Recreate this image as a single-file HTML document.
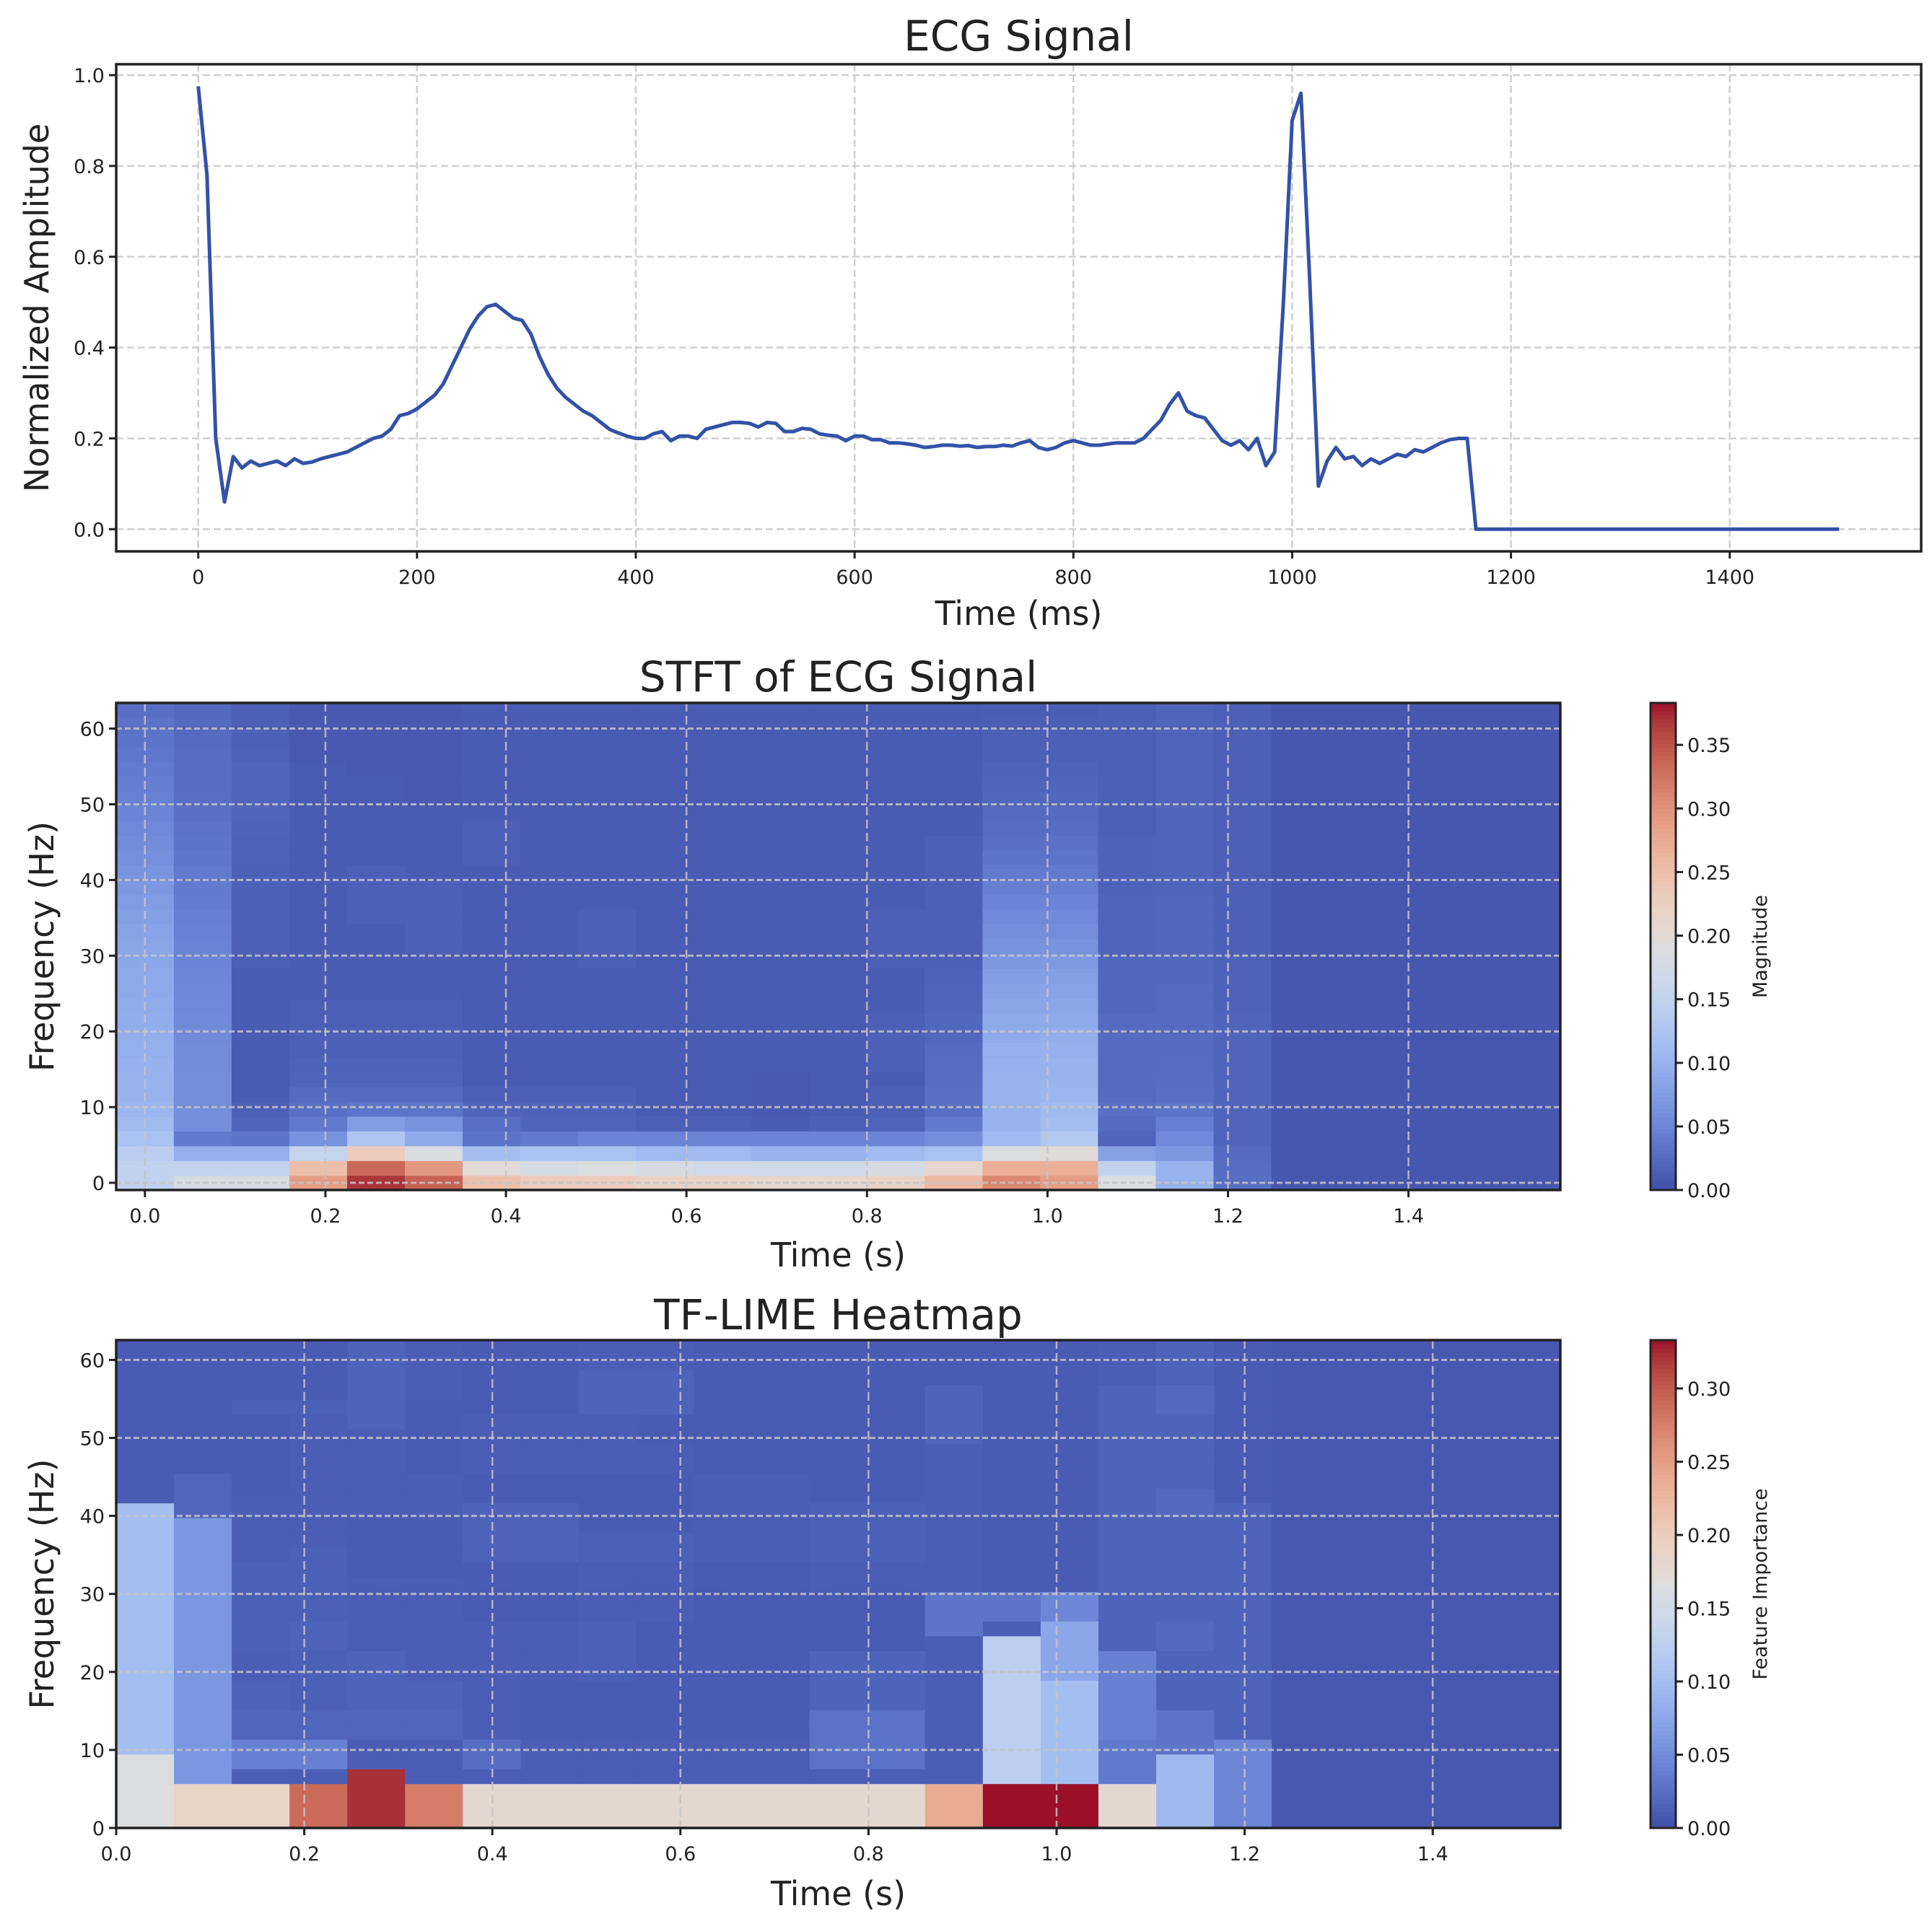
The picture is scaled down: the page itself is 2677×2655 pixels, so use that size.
<!DOCTYPE html>
<html><head><meta charset="utf-8"><style>
html,body{margin:0;padding:0;background:#fff;}
svg{display:block;font-family:"DejaVu Sans","Liberation Sans",sans-serif;}
</style></head><body>
<svg id="fig" width="2677" height="2655" viewBox="0 0 2677 2655" xmlns="http://www.w3.org/2000/svg">
<rect width="2677" height="2655" fill="#fff"/>
<g id="ecg"></g>
<g id="stft"></g>
<g id="lime"></g>
</svg>
<script>
// ---------- data ----------
const ecgTimeStep = 8;
const ecgValues = [0.975,0.78,0.2,0.06,0.16,0.135,0.15,0.14,0.145,0.15,0.14,0.155,0.145,0.148,0.155,0.16,0.165,0.17,0.18,0.19,0.2,0.205,0.22,0.25,0.255,0.265,0.28,0.295,0.32,0.36,0.4,0.44,0.47,0.49,0.495,0.48,0.465,0.46,0.43,0.38,0.34,0.31,0.29,0.275,0.26,0.25,0.235,0.22,0.212,0.205,0.2,0.2,0.21,0.215,0.195,0.205,0.205,0.2,0.22,0.225,0.23,0.235,0.235,0.233,0.225,0.235,0.233,0.215,0.215,0.222,0.22,0.21,0.207,0.205,0.195,0.205,0.205,0.197,0.197,0.19,0.19,0.188,0.185,0.18,0.182,0.185,0.185,0.183,0.184,0.18,0.182,0.182,0.185,0.183,0.19,0.195,0.18,0.175,0.18,0.19,0.195,0.19,0.185,0.185,0.188,0.19,0.19,0.19,0.2,0.22,0.24,0.275,0.3,0.26,0.25,0.245,0.22,0.195,0.185,0.195,0.175,0.2,0.14,0.17,0.5,0.9,0.96,0.55,0.095,0.15,0.18,0.155,0.16,0.14,0.155,0.145,0.155,0.165,0.16,0.175,0.17,0.18,0.19,0.197,0.2,0.2];
const ecgTailTimes = [1168,1500];
const ecgTailValues = [0,0];
const ecgXTicks = [0,200,400,600,800,1000,1200,1400];
const ecgYTicks = [0.0,0.2,0.4,0.6,0.8,1.0];

// STFT magnitude: one array per time column, values bottom (0 Hz) to top
const stftCols = [
[.15,.15,.14,.12,.11,.105,.1,.1,.098,.096,.095,.093,.092,.09,.088,.086,.085,.082,.078,.074,.07,.066,.062,.058,.054,.05,.047,.044,.041,.038,.035,.033,.03],
[.18,.15,.095,.04,.06,.06,.06,.06,.058,.058,.056,.055,.054,.053,.052,.05,.049,.047,.045,.043,.041,.039,.037,.035,.033,.031,.03,.028,.027,.026,.025,.024,.023],
[.18,.15,.095,.035,.02,.015,.012,.012,.012,.012,.012,.013,.013,.013,.013,.014,.015,.015,.016,.016,.017,.017,.018,.018,.019,.02,.02,.02,.02,.018,.016,.015,.014],
[.29,.25,.155,.065,.04,.03,.025,.02,.018,.016,.015,.014,.014,.013,.013,.013,.012,.012,.012,.012,.012,.012,.012,.012,.012,.012,.012,.012,.012,.01,.01,.01,.01],
[.37,.335,.23,.125,.075,.035,.025,.02,.018,.016,.015,.014,.014,.013,.013,.013,.012,.012,.015,.015,.015,.015,.012,.012,.012,.012,.012,.012,.01,.01,.01,.01,.01],
[.34,.295,.185,.09,.065,.035,.025,.02,.018,.016,.015,.014,.014,.013,.013,.013,.015,.015,.015,.015,.015,.012,.012,.012,.012,.012,.01,.01,.01,.01,.01,.01,.01],
[.25,.2,.115,.035,.03,.02,.015,.012,.012,.012,.012,.012,.012,.012,.012,.012,.012,.012,.012,.012,.012,.012,.015,.015,.015,.012,.012,.012,.012,.012,.012,.012,.012],
[.23,.18,.12,.04,.02,.018,.015,.012,.012,.012,.012,.012,.012,.012,.012,.012,.012,.012,.012,.012,.012,.012,.012,.012,.012,.012,.012,.012,.012,.012,.012,.012,.012],
[.23,.19,.12,.05,.02,.018,.015,.012,.012,.012,.012,.012,.012,.012,.012,.015,.015,.015,.015,.012,.012,.012,.012,.012,.012,.012,.012,.012,.012,.012,.012,.012,.012],
[.22,.18,.11,.05,.015,.012,.012,.012,.012,.012,.012,.012,.012,.012,.012,.012,.012,.012,.012,.012,.012,.012,.012,.012,.012,.012,.012,.012,.012,.012,.012,.012,.012],
[.22,.17,.11,.05,.015,.012,.012,.012,.012,.012,.012,.012,.012,.012,.012,.012,.012,.012,.012,.012,.012,.012,.012,.012,.012,.012,.012,.012,.012,.012,.012,.012,.012],
[.21,.17,.1,.05,.012,.01,.01,.01,.012,.012,.012,.012,.012,.012,.012,.012,.012,.012,.012,.012,.012,.012,.012,.012,.012,.012,.012,.012,.012,.012,.012,.012,.012],
[.21,.17,.1,.05,.015,.012,.012,.012,.012,.012,.012,.012,.012,.012,.012,.012,.012,.012,.012,.012,.012,.012,.012,.012,.012,.012,.012,.012,.012,.012,.012,.012,.012],
[.22,.18,.11,.05,.02,.015,.015,.012,.015,.015,.015,.015,.012,.012,.012,.015,.015,.015,.015,.012,.012,.012,.012,.012,.012,.012,.012,.012,.012,.012,.012,.012,.012],
[.26,.21,.12,.06,.04,.03,.03,.028,.026,.025,.022,.022,.02,.02,.018,.015,.015,.015,.015,.015,.015,.015,.015,.015,.012,.012,.012,.012,.012,.012,.012,.012,.012],
[.31,.27,.19,.11,.1,.1,.1,.1,.098,.095,.09,.088,.085,.08,.075,.07,.065,.06,.055,.05,.045,.04,.035,.03,.028,.025,.022,.02,.018,.016,.015,.014,.013],
[.29,.27,.2,.13,.115,.11,.105,.1,.1,.098,.095,.09,.086,.082,.078,.072,.066,.06,.055,.05,.045,.04,.035,.032,.028,.025,.022,.02,.018,.016,.015,.014,.013],
[.19,.15,.08,.02,.025,.03,.025,.025,.025,.025,.025,.025,.022,.022,.022,.022,.02,.02,.02,.02,.018,.018,.018,.018,.016,.016,.016,.016,.015,.015,.015,.015,.015],
[.1,.1,.07,.055,.045,.035,.03,.028,.026,.025,.025,.025,.025,.025,.022,.022,.022,.022,.022,.022,.02,.02,.02,.02,.02,.02,.02,.02,.02,.02,.02,.02,.02],
[.03,.028,.025,.02,.02,.02,.02,.02,.02,.02,.02,.02,.018,.018,.018,.018,.016,.016,.016,.016,.015,.015,.015,.015,.015,.015,.015,.015,.015,.015,.015,.015,.015],
[.008,.008,.008,.008,.008,.008,.008,.008,.008,.008,.008,.008,.008,.008,.008,.008,.008,.008,.008,.008,.008,.008,.008,.008,.008,.008,.008,.008,.008,.008,.008,.008,.008],
[.008,.008,.008,.008,.008,.008,.008,.008,.008,.008,.008,.008,.008,.008,.008,.008,.008,.008,.008,.008,.008,.008,.008,.008,.008,.008,.008,.008,.008,.008,.008,.008,.008],
[.008,.008,.008,.008,.008,.008,.008,.008,.008,.008,.008,.008,.008,.008,.008,.008,.008,.008,.008,.008,.008,.008,.008,.008,.008,.008,.008,.008,.008,.008,.008,.008,.008],
[.008,.008,.008,.008,.008,.008,.008,.008,.008,.008,.008,.008,.008,.008,.008,.008,.008,.008,.008,.008,.008,.008,.008,.008,.008,.008,.008,.008,.008,.008,.008,.008,.008],
[.008,.008,.008,.008,.008,.008,.008,.008,.008,.008,.008,.008,.008,.008,.008,.008,.008,.008,.008,.008,.008,.008,.008,.008,.008,.008,.008,.008,.008,.008,.008,.008,.008]
];
const stftVmax = 0.383;
const stftTimeStep = 0.064;
const stftFreqStep = 1.953;
const stftXTicks = [0.0,0.2,0.4,0.6,0.8,1.0,1.2,1.4];
const stftYTicks = [0,10,20,30,40,50,60];
const stftCbTicks = [0.00,0.05,0.10,0.15,0.20,0.25,0.30,0.35];

// TF-LIME importance: one array per time column, bottom to top
const limeCols = [
[.165,.165,.165,.165,.165,.1,.1,.1,.1,.1,.1,.1,.1,.1,.1,.1,.1,.1,.1,.1,.1,.1,.01,.01,.01,.01,.01,.01,.01,.01,.01,.01,.01],
[.19,.19,.19,.06,.06,.06,.06,.06,.06,.06,.06,.06,.06,.06,.06,.06,.06,.06,.06,.06,.06,.018,.018,.018,.01,.01,.01,.01,.01,.01,.01,.01,.01],
[.19,.19,.19,.012,.04,.04,.018,.018,.016,.016,.012,.012,.014,.014,.014,.014,.014,.014,.012,.012,.012,.012,.012,.01,.01,.01,.01,.01,.014,.01,.01,.01,.01],
[.29,.29,.29,.012,.04,.04,.018,.018,.014,.014,.014,.014,.016,.016,.014,.014,.014,.014,.014,.012,.012,.012,.012,.012,.012,.012,.012,.012,.014,.01,.01,.01,.01],
[.323,.323,.323,.323,.012,.012,.018,.018,.016,.016,.016,.016,.012,.012,.012,.012,.012,.01,.01,.01,.01,.012,.012,.012,.012,.012,.012,.016,.016,.016,.016,.016,.016],
[.277,.277,.277,.012,.012,.012,.018,.018,.016,.016,.012,.012,.012,.012,.012,.012,.012,.01,.01,.01,.01,.012,.012,.012,.01,.01,.01,.01,.01,.012,.012,.012,.012],
[.18,.18,.18,.012,.025,.025,.012,.012,.012,.012,.012,.012,.012,.012,.01,.01,.01,.01,.016,.016,.016,.016,.01,.01,.012,.012,.012,.012,.01,.01,.01,.01,.01],
[.18,.18,.18,.012,.012,.012,.01,.01,.01,.01,.012,.012,.012,.012,.01,.01,.01,.01,.016,.016,.016,.016,.01,.01,.012,.012,.012,.012,.01,.01,.01,.01,.01],
[.18,.18,.18,.012,.012,.012,.01,.01,.01,.01,.014,.014,.014,.014,.012,.012,.012,.012,.014,.014,.01,.01,.01,.01,.012,.012,.012,.012,.016,.016,.016,.012,.012],
[.18,.18,.18,.012,.012,.012,.01,.01,.01,.01,.01,.01,.01,.01,.012,.012,.012,.012,.014,.014,.01,.01,.01,.01,.012,.012,.01,.01,.016,.016,.016,.012,.012],
[.18,.18,.18,.012,.012,.012,.01,.01,.01,.01,.01,.01,.01,.01,.01,.01,.01,.01,.012,.012,.012,.012,.012,.012,.01,.01,.01,.01,.01,.01,.01,.01,.01],
[.18,.18,.18,.012,.012,.012,.01,.01,.01,.01,.01,.01,.01,.01,.01,.01,.01,.01,.012,.012,.012,.012,.012,.012,.01,.01,.01,.01,.01,.01,.01,.01,.01],
[.18,.18,.18,.012,.028,.028,.028,.028,.016,.016,.016,.016,.01,.01,.01,.01,.012,.012,.014,.014,.014,.014,.01,.01,.01,.01,.01,.01,.01,.01,.01,.01,.01],
[.18,.18,.18,.012,.028,.028,.028,.028,.016,.016,.016,.016,.01,.01,.01,.01,.012,.012,.014,.014,.014,.014,.01,.01,.01,.01,.01,.01,.01,.01,.01,.01,.01],
[.24,.24,.24,.012,.012,.012,.012,.012,.012,.012,.012,.012,.012,.03,.03,.03,.012,.012,.012,.012,.012,.012,.012,.012,.012,.012,.016,.016,.016,.016,.01,.01,.01],
[.333,.333,.333,.125,.125,.125,.125,.125,.125,.125,.125,.125,.125,.012,.03,.03,.01,.01,.01,.01,.01,.01,.01,.01,.01,.01,.01,.01,.01,.01,.01,.01,.01],
[.333,.333,.333,.1,.1,.1,.1,.1,.1,.1,.075,.075,.075,.075,.045,.045,.01,.01,.01,.01,.01,.01,.01,.01,.01,.01,.01,.01,.01,.01,.01,.01,.01],
[.18,.18,.18,.035,.035,.035,.04,.04,.04,.04,.04,.04,.016,.016,.016,.016,.016,.016,.016,.016,.016,.016,.016,.016,.016,.016,.016,.016,.016,.016,.012,.012,.012],
[.095,.095,.095,.095,.095,.03,.03,.03,.016,.016,.016,.016,.02,.02,.016,.016,.016,.016,.016,.016,.016,.02,.02,.016,.016,.016,.016,.016,.02,.02,.016,.016,.016],
[.045,.045,.045,.045,.045,.045,.016,.016,.016,.016,.016,.016,.016,.016,.016,.016,.016,.016,.016,.016,.016,.016,.01,.01,.01,.01,.01,.01,.01,.01,.01,.01,.01],
[.008,.008,.008,.008,.008,.008,.008,.008,.008,.008,.008,.008,.008,.008,.008,.008,.008,.008,.008,.008,.008,.008,.008,.008,.008,.008,.008,.008,.008,.008,.008,.008,.008],
[.008,.008,.008,.008,.008,.008,.008,.008,.008,.008,.008,.008,.008,.008,.008,.008,.008,.008,.008,.008,.008,.008,.008,.008,.008,.008,.008,.008,.008,.008,.008,.008,.008],
[.008,.008,.008,.008,.008,.008,.008,.008,.008,.008,.008,.008,.008,.008,.008,.008,.008,.008,.008,.008,.008,.008,.008,.008,.008,.008,.008,.008,.008,.008,.008,.008,.008],
[.008,.008,.008,.008,.008,.008,.008,.008,.008,.008,.008,.008,.008,.008,.008,.008,.008,.008,.008,.008,.008,.008,.008,.008,.008,.008,.008,.008,.008,.008,.008,.008,.008],
[.008,.008,.008,.008,.008,.008,.008,.008,.008,.008,.008,.008,.008,.008,.008,.008,.008,.008,.008,.008,.008,.008,.008,.008,.008,.008,.008,.008,.008,.008,.008,.008,.008]
];
const limeVmax = 0.333;
const limeTimeStep = 0.06144;
const limeFreqStep = 1.894;
const limeXTicks = [0.0,0.2,0.4,0.6,0.8,1.0,1.2,1.4];
const limeYTicks = [0,10,20,30,40,50,60];
const limeCbTicks = [0.00,0.05,0.10,0.15,0.20,0.25,0.30];

// ---------- helpers ----------
const NS = "http://www.w3.org/2000/svg";
const CW = [[59,76,192],[68,90,204],[77,104,215],[87,117,225],[98,130,234],[108,142,241],[119,154,247],[130,165,251],[141,176,254],[152,185,255],[163,194,255],[174,201,253],[184,208,249],[194,213,244],[204,217,238],[213,219,230],[221,221,221],[229,216,209],[236,211,197],[241,204,185],[245,196,173],[247,187,160],[247,177,148],[247,166,135],[244,154,123],[241,141,111],[236,127,99],[229,112,88],[222,96,77],[213,80,66],[203,62,56],[192,40,47],[180,4,38]];
function cw(n){n=Math.max(0,Math.min(1,n));const p=n*32,i=Math.min(31,Math.floor(p)),f=p-i;const a=CW[i],b=CW[i+1];
 let r=a[0]+(b[0]-a[0])*f,g=a[1]+(b[1]-a[1])*f,bl=a[2]+(b[2]-a[2])*f;
 const L=0.3*r+0.59*g+0.11*bl, k=0.22;
 r=r*(1-k)+L*k; g=g*(1-k)+L*k; bl=bl*(1-k)+L*k;
 return `rgb(${Math.round(r)},${Math.round(g)},${Math.round(bl)})`;}
function mk(tag,attrs,parent){const e=document.createElementNS(NS,tag);for(const k in attrs)e.setAttribute(k,attrs[k]);parent.appendChild(e);return e;}
function txt(s,attrs,parent){const e=mk('text',attrs,parent);e.textContent=s;return e;}
const TICKFS=27, LABFS=46, TITFS=58;

// ---------- ECG panel ----------
(function(){
const g=document.getElementById('ecg');
const L=161,T=89,R=2662,B=764;
const xs=t=>L+(t-(-75))/(1650)*(R-L);
const ys=v=>B-(v-(-0.0488))/(1.0728)*(B-T);
const grid=mk('g',{},g);

ecgXTicks.forEach(t=>{mk('line',{x1:xs(t),x2:xs(t),y1:T,y2:B,stroke:'#cfcfcf','stroke-width':2.5,'stroke-dasharray':'10,5'},grid);});
ecgYTicks.forEach(v=>{mk('line',{x1:L,x2:R,y1:ys(v),y2:ys(v),stroke:'#cfcfcf','stroke-width':2.5,'stroke-dasharray':'10,5'},grid);});
let pts=ecgValues.map((v,i)=>xs(i*ecgTimeStep).toFixed(1)+','+ys(v).toFixed(1));
ecgTailTimes.forEach((t,i)=>pts.push(xs(t).toFixed(1)+','+ys(ecgTailValues[i]).toFixed(1)));
const line=mk('polyline',{points:pts.join(' '),fill:'none',stroke:'#3352a6','stroke-width':5,'stroke-linejoin':'round'},g);

const fr=mk('rect',{x:L,y:T,width:R-L,height:B-T,fill:'none',stroke:'#222','stroke-width':3.5},g);

ecgXTicks.forEach(t=>{mk('line',{x1:xs(t),x2:xs(t),y1:B,y2:B+10,stroke:'#222','stroke-width':3},g);
 const e=txt(String(t),{x:xs(t),y:B+45,'font-size':TICKFS,'text-anchor':'middle',fill:'#222'},g);
 });
ecgYTicks.forEach(v=>{mk('line',{x1:L-10,x2:L,y1:ys(v),y2:ys(v),stroke:'#222','stroke-width':3},g);
 const e=txt(v.toFixed(1),{x:L-16,y:ys(v)+10,'font-size':TICKFS,'text-anchor':'end',fill:'#222'},g);
 });
let e=txt('ECG Signal',{x:(L+R)/2,y:70,'font-size':TITFS,'text-anchor':'middle',fill:'#222'},g);

e=txt('Time (ms)',{x:(L+R)/2,y:866,'font-size':LABFS,'text-anchor':'middle',fill:'#222'},g);

e=txt('Normalized Amplitude',{x:0,y:0,'font-size':LABFS,'text-anchor':'middle',fill:'#222',transform:`translate(67,${(T+B)/2}) rotate(-90)`},g);

})();

// ---------- heatmap panel ----------
function heat(gid,cols,vmax,L,T,R,B,xs,ys,cellX,cellY,xt,yt,cbT,title,titleY,xlabY,cbLabel,names){
const g=document.getElementById(gid);
const cells=mk('g',{},g);

const clipId=gid+'clip';
const cp=mk('clipPath',{id:clipId},g);mk('rect',{x:L,y:T,width:R-L,height:B-T},cp);
cells.setAttribute('clip-path',`url(#${clipId})`);
cols.forEach((col,c)=>{col.forEach((v,r)=>{
 const [x0,x1]=cellX(c),[y0,y1]=cellY(r);
 const px0=xs(x0),px1=xs(x1),py0=ys(y1),py1=ys(y0);
 const rc=mk('rect',{x:px0.toFixed(2),y:py0.toFixed(2),width:(px1-px0+0.6).toFixed(2),height:(py1-py0+0.6).toFixed(2),fill:cw(v/vmax)},cells);
 
 
});});
const grid=mk('g',{},g);

xt.forEach(t=>{mk('line',{x1:xs(t),x2:xs(t),y1:T,y2:B,stroke:'#c4c4c4','stroke-opacity':0.85,'stroke-width':2.5,'stroke-dasharray':'12,6'},grid);});
yt.forEach(v=>{mk('line',{x1:L,x2:R,y1:ys(v),y2:ys(v),stroke:'#c4c4c4','stroke-opacity':0.85,'stroke-width':3,'stroke-dasharray':'8,4'},grid);});
const fr=mk('rect',{x:L,y:T,width:R-L,height:B-T,fill:'none',stroke:'#222','stroke-width':3.5},g);

xt.forEach(t=>{mk('line',{x1:xs(t),x2:xs(t),y1:B,y2:B+10,stroke:'#222','stroke-width':3},g);
 const e=txt(t.toFixed(1),{x:xs(t),y:B+45,'font-size':TICKFS,'text-anchor':'middle',fill:'#222'},g);
 });
yt.forEach(v=>{mk('line',{x1:L-10,x2:L,y1:ys(v),y2:ys(v),stroke:'#222','stroke-width':3},g);
 const e=txt(String(v),{x:L-16,y:ys(v)+10,'font-size':TICKFS,'text-anchor':'end',fill:'#222'},g);
 });
let e=txt(title,{x:(L+R)/2,y:titleY,'font-size':TITFS,'text-anchor':'middle',fill:'#222'},g);

e=txt('Time (s)',{x:(L+R)/2,y:xlabY,'font-size':LABFS,'text-anchor':'middle',fill:'#222'},g);

e=txt('Frequency (Hz)',{x:0,y:0,'font-size':LABFS,'text-anchor':'middle',fill:'#222',transform:`translate(74,${(T+B)/2}) rotate(-90)`},g);

// colorbar
const cb=mk('g',{},g);

const CL=2287,CR=2322,N=120;
for(let i=0;i<N;i++){const y0=B-(i+1)*(B-T)/N;mk('rect',{x:CL,y:y0.toFixed(2),width:CR-CL,height:((B-T)/N+0.6).toFixed(2),fill:cw((i+0.5)/N)},cb);}
mk('rect',{x:CL,y:T,width:CR-CL,height:B-T,fill:'none',stroke:'#222','stroke-width':3},cb);
const cys=v=>B-v/vmax*(B-T);
cbT.forEach(v=>{mk('line',{x1:CR,x2:CR+10,y1:cys(v),y2:cys(v),stroke:'#222','stroke-width':3},cb);
 const t=txt(v.toFixed(2),{x:CR+16,y:cys(v)+10,'font-size':TICKFS,'fill':'#222'},cb);
 });
e=txt(cbLabel,{x:0,y:0,'font-size':TICKFS,'text-anchor':'middle',fill:'#222',transform:`translate(2448,${(T+B)/2}) rotate(-90)`},cb);

}

// STFT
(function(){
const L=161,T=974,R=2162,B=1649;
const xs=t=>200.8+1250.6*t;
const ys=f=>1639-10.49*f;
heat('stft',stftCols,stftVmax,L,T,R,B,xs,ys,
 c=>[(c-0.5)*stftTimeStep,(c+0.5)*stftTimeStep],
 r=>[(r-0.5)*stftFreqStep,(r+0.5)*stftFreqStep],
 stftXTicks,stftYTicks,stftCbTicks,'STFT of ECG Signal',958,1755,'Magnitude','stft');
})();
// LIME
(function(){
const L=161,T=1857,R=2162,B=2533;
const xs=t=>161+1303*t;
const ys=f=>2533-10.81*f;
heat('lime',limeCols,limeVmax,L,T,R,B,xs,ys,
 c=>[c*limeTimeStep,(c+1)*limeTimeStep],
 r=>[r*limeFreqStep,(r+1)*limeFreqStep],
 limeXTicks,limeYTicks,limeCbTicks,'TF-LIME Heatmap',1842,2640,'Feature Importance','lime');
})();
</script>
</body></html>
